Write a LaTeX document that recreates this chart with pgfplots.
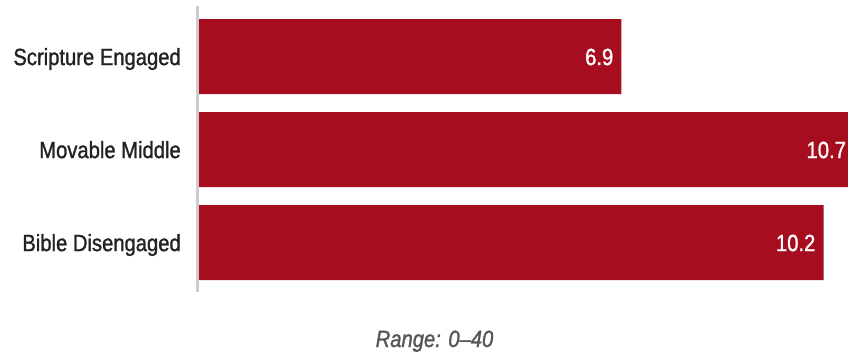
\documentclass[border=0pt]{standalone}
\usepackage{pgfplots}
\pgfplotsset{compat=1.18}
\usepackage{fontspec}
\setmainfont{Liberation Sans}[FakeStretch=0.86, FakeBold=1.2]
\definecolor{barred}{HTML}{A60D1E}
\definecolor{axgray}{HTML}{CCCCCC}
\definecolor{txt}{HTML}{222222}
\definecolor{rng}{HTML}{555555}
\newcommand{\lblfont}{\fontsize{23.5bp}{28bp}\selectfont}
\begin{document}
\begin{tikzpicture}
\useasboundingbox (0,0) rectangle (848bp,353bp);
\draw[axgray, line width=3bp] (197.2bp,61bp) -- (197.2bp,347bp);
\begin{axis}[
  at={(199bp,61bp)}, anchor=south west,
  scale only axis, width=649bp, height=286bp,
  xmin=0, xmax=10.6, ymin=-0.53, ymax=2.545,
  clip=false,
  axis line style={draw=none},
  tick style={draw=none},
  major tick length=0pt,
  xtick=\empty,
  ytick={0,1,2},
  yticklabels={Bible Disengaged, Movable Middle, Scripture Engaged},
  yticklabel style={font=\lblfont, text=txt, anchor=base east, inner sep=0pt, xshift=-18bp, yshift=-8.4bp},
]
\addplot[xbar, bar width=75bp, bar shift=0pt, fill=barred, draw=none,
  nodes near coords, point meta=explicit symbolic,
  every node near coord/.append style={anchor=base east, text=white, font=\lblfont, inner sep=0pt, xshift=-8bp, yshift=-8.4bp}]
  coordinates {(10.2,0)[10.2] (10.7,1)[10.7] (6.9,2)[6.9]};
\end{axis}
\node[anchor=base, text=rng, font=\lblfont\itshape, inner sep=0pt] at (434.5bp,6bp) {Range: 0--40};
\end{tikzpicture}
\end{document}
